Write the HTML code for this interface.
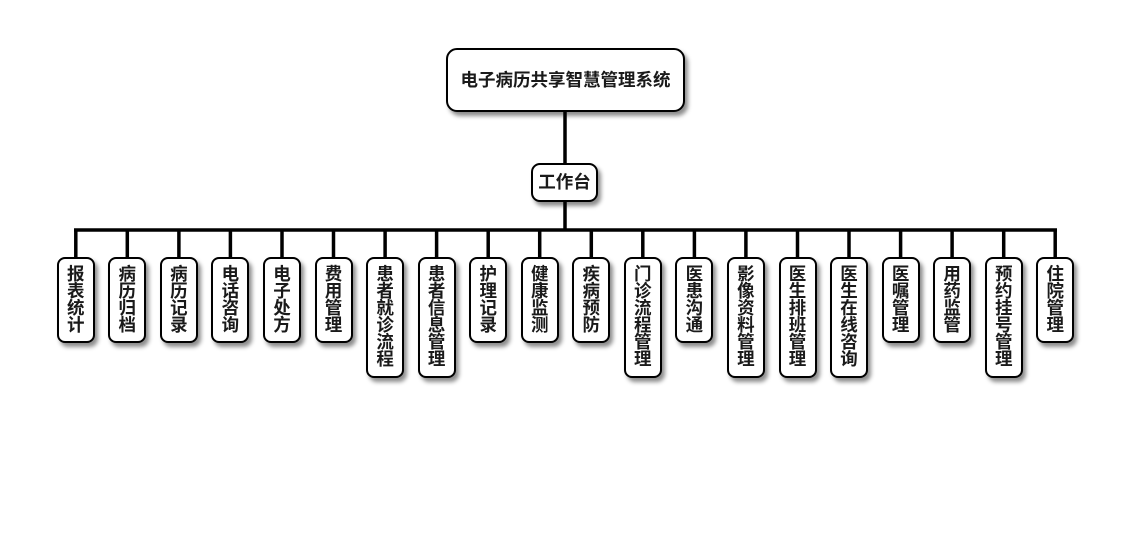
<!DOCTYPE html>
<html>
<head>
<meta charset="utf-8">
<style>
  html,body{margin:0;padding:0;background:#fff;}
  body{width:1130px;height:560px;position:relative;overflow:hidden;
       font-family:"Liberation Sans","Noto Sans CJK SC",sans-serif;}
  .box{position:absolute;box-sizing:border-box;background:#fff;border:2px solid #000;
       box-shadow:3px 4px 4px rgba(0,0,0,0.45);color:#1a1a1a;font-weight:bold;}
  .top{left:446px;top:48px;width:239px;height:64px;border-radius:11px;
       font-size:17.5px;line-height:60px;text-align:center;}
  .mid{left:531px;top:163px;width:67px;height:39px;border-radius:9px;
       font-size:17.5px;line-height:35px;text-align:center;}
  .n{top:257px;width:38px;border-radius:8px;font-size:17.5px;line-height:17px;
     text-align:center;padding-top:7px;}
  .h4{height:86px;}
  .h6{height:121px;}
  svg{position:absolute;left:0;top:0;}
</style>
</head>
<body>
<svg width="1130" height="560">
  <g stroke="#000" stroke-width="3.5" fill="none">
    <line x1="565" y1="110" x2="565" y2="165"/>
    <line x1="565" y1="200" x2="565" y2="230"/>
    <line x1="74" y1="230" x2="1057" y2="230"/>
    <line x1="75.8" y1="230" x2="75.8" y2="259"/>
    <line x1="127.3" y1="230" x2="127.3" y2="259"/>
    <line x1="178.9" y1="230" x2="178.9" y2="259"/>
    <line x1="230.4" y1="230" x2="230.4" y2="259"/>
    <line x1="282" y1="230" x2="282" y2="259"/>
    <line x1="333.5" y1="230" x2="333.5" y2="259"/>
    <line x1="385.1" y1="230" x2="385.1" y2="259"/>
    <line x1="436.6" y1="230" x2="436.6" y2="259"/>
    <line x1="488.2" y1="230" x2="488.2" y2="259"/>
    <line x1="539.7" y1="230" x2="539.7" y2="259"/>
    <line x1="591.3" y1="230" x2="591.3" y2="259"/>
    <line x1="642.8" y1="230" x2="642.8" y2="259"/>
    <line x1="694.4" y1="230" x2="694.4" y2="259"/>
    <line x1="745.9" y1="230" x2="745.9" y2="259"/>
    <line x1="797.5" y1="230" x2="797.5" y2="259"/>
    <line x1="849" y1="230" x2="849" y2="259"/>
    <line x1="900.6" y1="230" x2="900.6" y2="259"/>
    <line x1="952.1" y1="230" x2="952.1" y2="259"/>
    <line x1="1003.7" y1="230" x2="1003.7" y2="259"/>
    <line x1="1055.2" y1="230" x2="1055.2" y2="259"/>
  </g>
</svg>

<div class="box top">电子病历共享智慧管理系统</div>
<div class="box mid">工作台</div>

<div class="box n h4" style="left:56.8px">报<br>表<br>统<br>计</div>
<div class="box n h4" style="left:108.3px">病<br>历<br>归<br>档</div>
<div class="box n h4" style="left:159.9px">病<br>历<br>记<br>录</div>
<div class="box n h4" style="left:211.4px">电<br>话<br>咨<br>询</div>
<div class="box n h4" style="left:263px">电<br>子<br>处<br>方</div>
<div class="box n h4" style="left:314.5px">费<br>用<br>管<br>理</div>
<div class="box n h6" style="left:366.1px">患<br>者<br>就<br>诊<br>流<br>程</div>
<div class="box n h6" style="left:417.6px">患<br>者<br>信<br>息<br>管<br>理</div>
<div class="box n h4" style="left:469.2px">护<br>理<br>记<br>录</div>
<div class="box n h4" style="left:520.7px">健<br>康<br>监<br>测</div>
<div class="box n h4" style="left:572.3px">疾<br>病<br>预<br>防</div>
<div class="box n h6" style="left:623.8px">门<br>诊<br>流<br>程<br>管<br>理</div>
<div class="box n h4" style="left:675.4px">医<br>患<br>沟<br>通</div>
<div class="box n h6" style="left:726.9px">影<br>像<br>资<br>料<br>管<br>理</div>
<div class="box n h6" style="left:778.5px">医<br>生<br>排<br>班<br>管<br>理</div>
<div class="box n h6" style="left:830px">医<br>生<br>在<br>线<br>咨<br>询</div>
<div class="box n h4" style="left:881.6px">医<br>嘱<br>管<br>理</div>
<div class="box n h4" style="left:933.1px">用<br>药<br>监<br>管</div>
<div class="box n h6" style="left:984.7px">预<br>约<br>挂<br>号<br>管<br>理</div>
<div class="box n h4" style="left:1036.2px">住<br>院<br>管<br>理</div>
</body>
</html>
